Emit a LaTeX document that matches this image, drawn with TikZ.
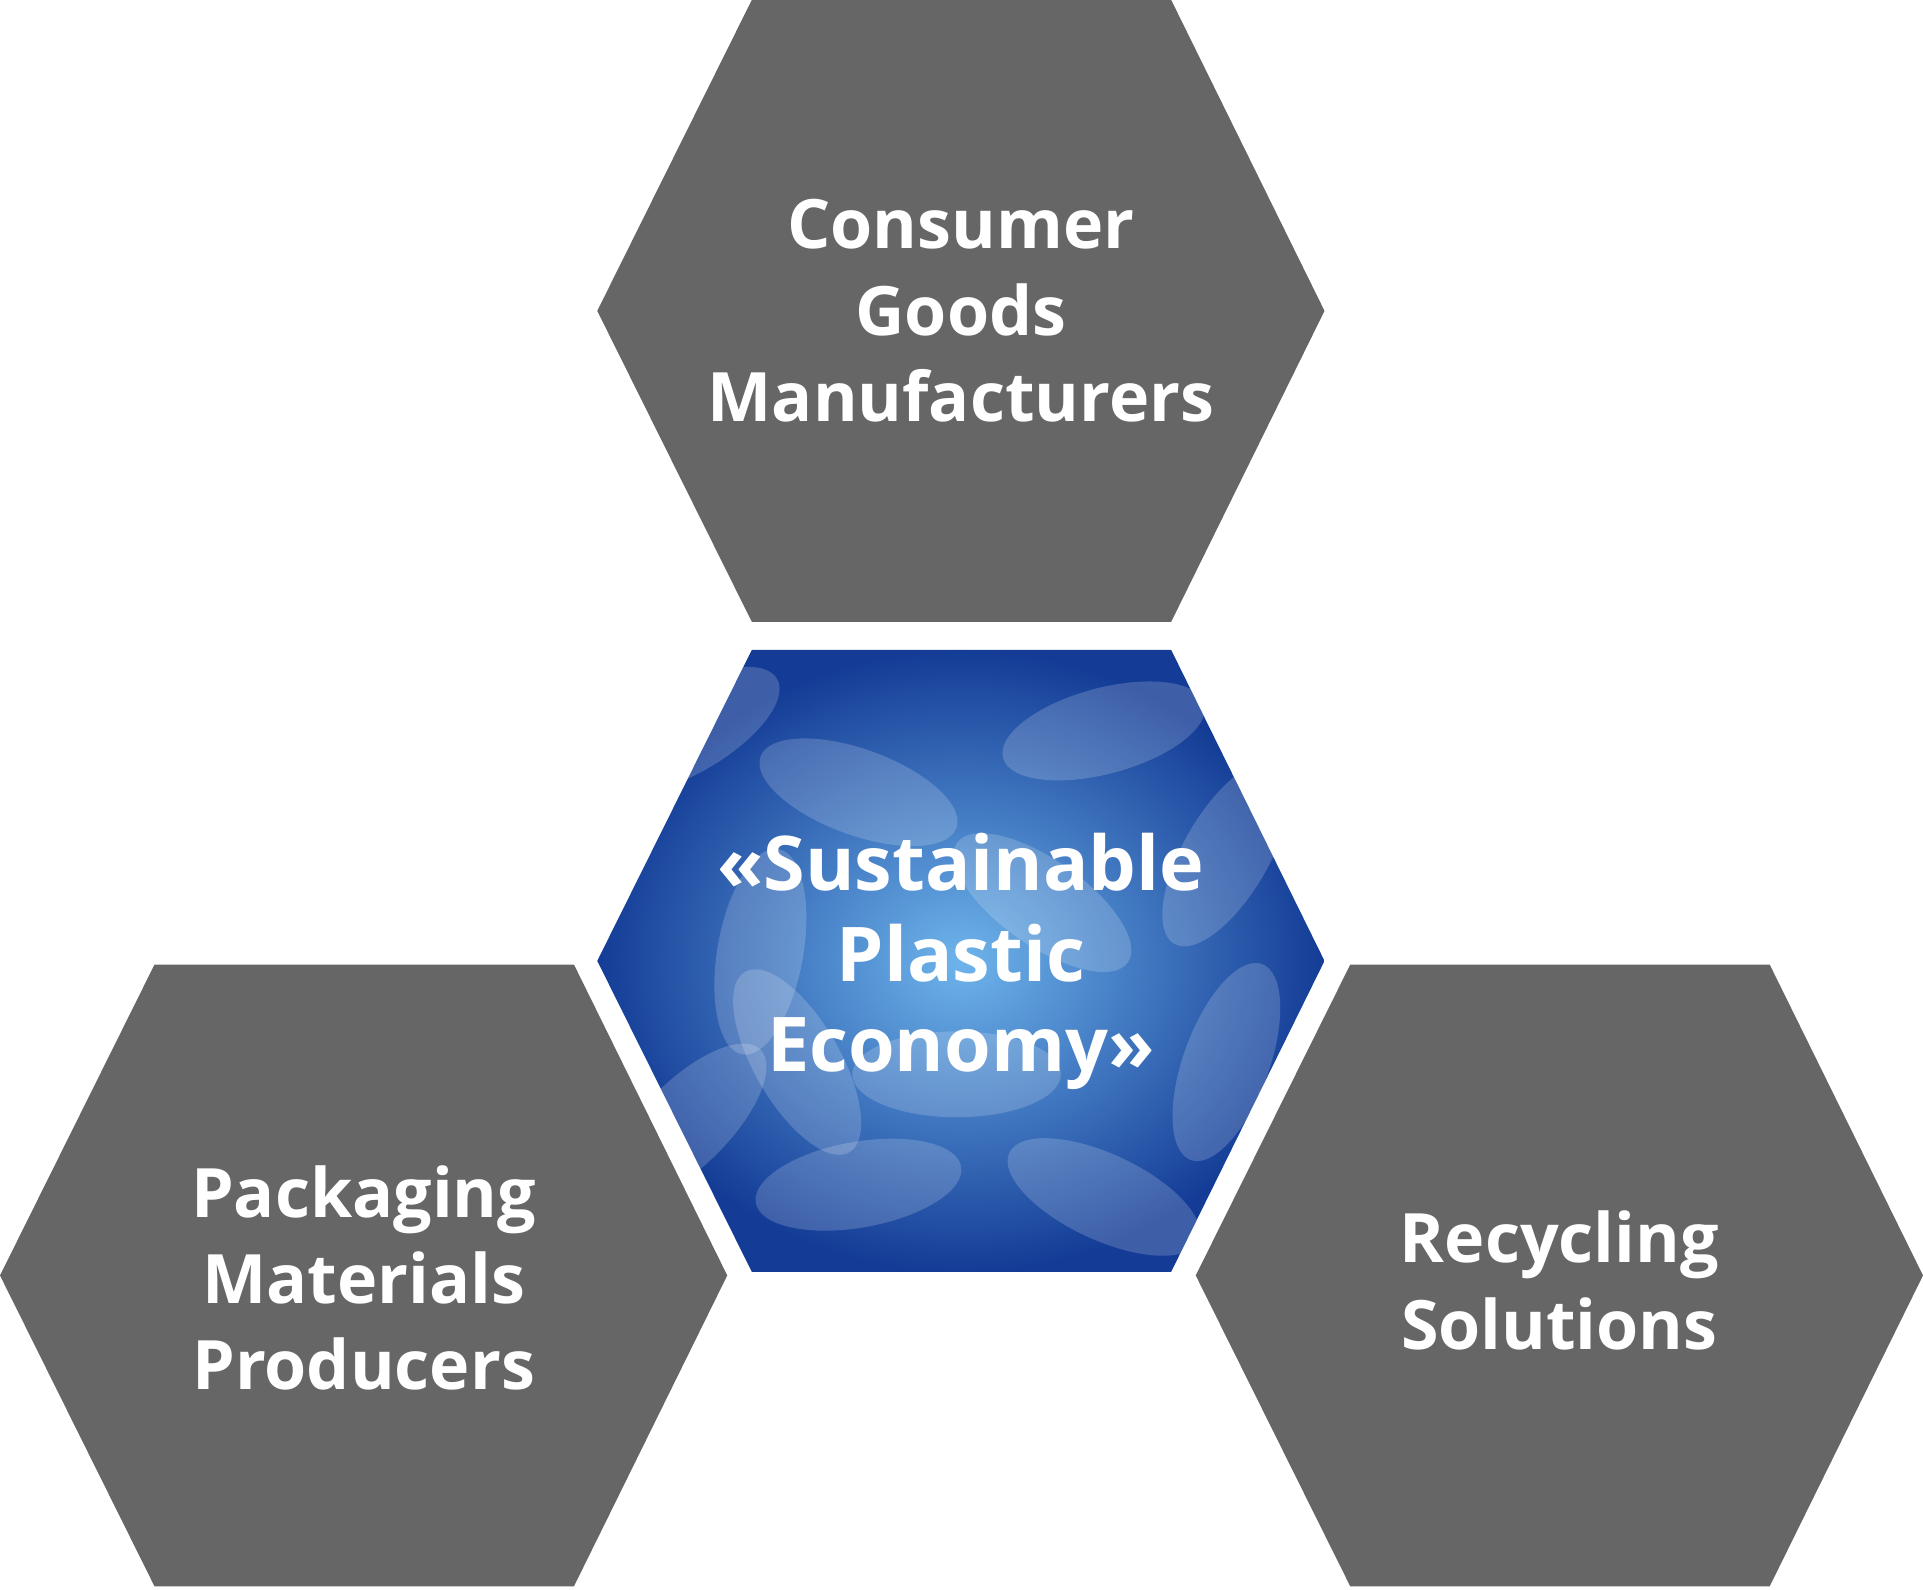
\documentclass[tikz,border=0pt]{standalone}
\usepackage{fontspec}
\setmainfont{Open Sans}
\usetikzlibrary{positioning}
\definecolor{hexgray}{RGB}{102,102,102}
\definecolor{bottledark}{RGB}{20,60,150}
\definecolor{bottlelight}{RGB}{110,180,235}
\tikzset{
  hexlabel/.style={text=white, align=center, font=\bfseries\fontsize{15.8}{20}\selectfont},
}
% hexagon with centre (#1,#2), in units of 0.01cm
\newcommand{\hexpath}[2]{(#1-296.5,#2) -- (#1-170.5,#2+253.5) -- (#1+171.5,#2+253.5) -- (#1+296.5,#2) -- (#1+171.5,#2-253.5) -- (#1-170.5,#2-253.5) -- cycle}

\begin{document}
\begin{tikzpicture}[x=0.01cm,y=0.01cm]
        \useasboundingbox (0,0) rectangle (1568,1296);

        % Gray hexagons:
        \fill[hexgray] \hexpath{783.5}{1042.5};
        \fill[hexgray] \hexpath{296.5}{256};
        \fill[hexgray] \hexpath{1271.5}{256};

        % Centre hexagon:
        \begin{scope}
        \clip \hexpath{783.5}{512.5};
        \shade[inner color=bottlelight, outer color=bottledark] (487,259) rectangle (1080,766);
        \foreach \x/\y/\a in {560/700/30,700/650/-20,900/700/15,1000/600/60,620/520/80,850/560/-35,
                              560/380/45,700/330/10,900/320/-25,1000/430/70,780/420/0,650/430/-60}{%
        \fill[white, opacity=0.18, rotate around={\a:(\x,\y)}] (\x,\y) ellipse (85 and 35);
        }
        \end{scope}

        % Labels:
        \node[hexlabel] (consumer) at (783.5,1042.5) {Consumer\\Goods\\Manufacturers};
        \node[hexlabel] (packaging) at (296.5,254) {Packaging\\Materials\\Producers};
        \node[hexlabel] (recycling) at (1271.5,252) {Recycling\\Solutions};
        \node[hexlabel, font=\bfseries\fontsize{17.5}{21}\selectfont] (economy) at (783.5,512) {«Sustainable\\Plastic\\Economy»};

    \end{tikzpicture}
\end{document}
